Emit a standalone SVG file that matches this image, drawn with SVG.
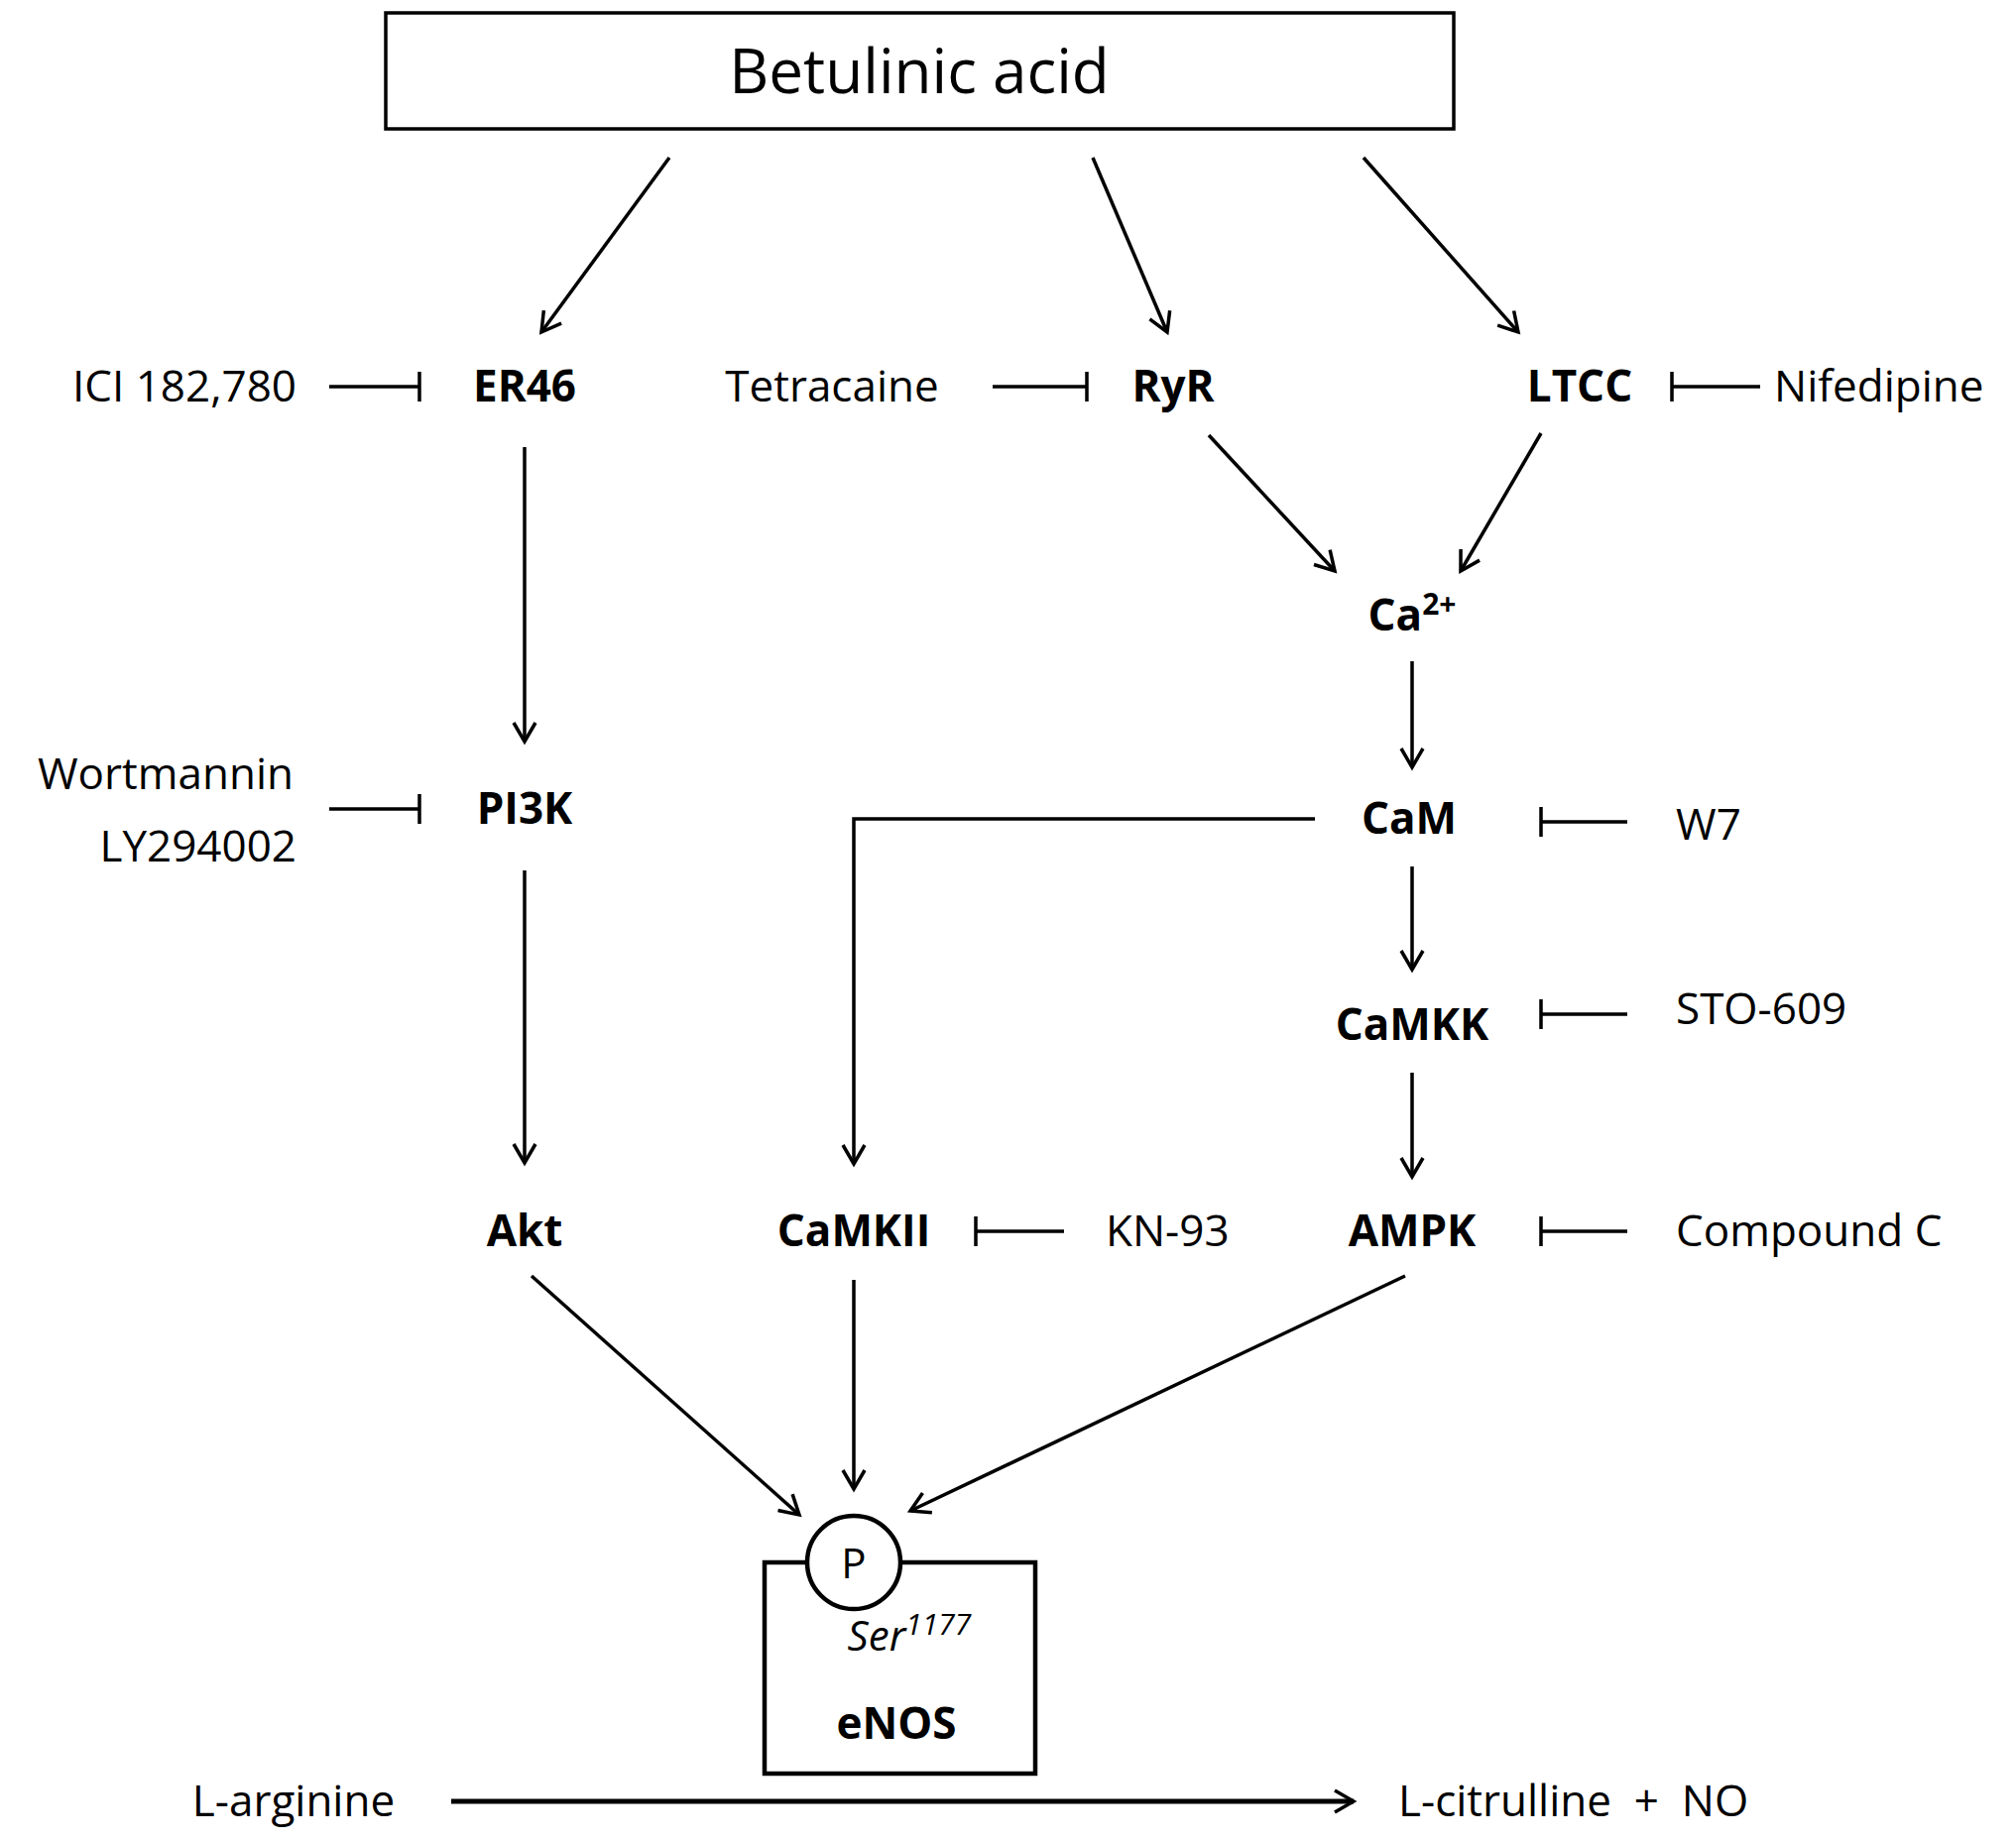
<svg xmlns="http://www.w3.org/2000/svg" width="2033" height="1856" viewBox="0 0 2033 1856">
<style>
text{font-family:"Open Sans","Liberation Sans",sans-serif;fill:#000}
.n{font-size:44px;font-weight:bold;text-anchor:middle}
.i{font-size:44px}
.l{stroke:#000;stroke-width:3.5;fill:none}
.a{marker-end:url(#ah)}
</style>
<defs>
<marker id="ah" markerWidth="26" markerHeight="26" refX="21" refY="13" orient="auto" markerUnits="userSpaceOnUse">
<polyline points="2,2 21,13 2,24" fill="none" stroke="#000" stroke-width="3.5"/>
</marker>
</defs>
<rect width="2033" height="1856" fill="#fff"/>
<g id="betulinic"><rect x="389" y="13" width="1077" height="117" class="l"/><text x="927" y="94" font-size="62" text-anchor="middle">Betulinic acid</text></g>
<g id="er46"><text class="n" x="529" y="405">ER46</text></g>
<g id="ryr"><text class="n" x="1183" y="405">RyR</text></g>
<g id="ltcc"><text class="n" x="1593" y="405">LTCC</text></g>
<g id="ca"><text class="n" x="1424" y="636">Ca<tspan font-size="30" dy="-16">2+</tspan></text></g>
<g id="cam"><text class="n" x="1421" y="841">CaM</text></g>
<g id="camkk"><text class="n" x="1424" y="1049">CaMKK</text></g>
<g id="ampk"><text class="n" x="1424" y="1257">AMPK</text></g>
<g id="camkii"><text class="n" x="861" y="1257">CaMKII</text></g>
<g id="akt"><text class="n" x="529" y="1257">Akt</text></g>
<g id="pi3k"><text class="n" x="529" y="831">PI3K</text></g>
<g id="enos"><rect x="771" y="1576" width="273" height="213" class="l" style="stroke-width:4.5"/><circle cx="861" cy="1576" r="47" style="fill:#fff;stroke:#000;stroke-width:4.5"/><text x="861" y="1592" font-size="42" text-anchor="middle">P</text><text x="917" y="1665" font-size="42" font-style="italic" text-anchor="middle">Ser<tspan font-size="30" dy="-16">1177</tspan></text><text class="n" x="904" y="1754">eNOS</text></g>
<g id="inhibitors">
<text class="i" x="299" y="405" text-anchor="end">ICI 182,780</text>
<text class="i" x="839" y="405" text-anchor="middle">Tetracaine</text>
<text class="i" x="1789" y="405">Nifedipine</text>
<text class="i" x="296" y="796" text-anchor="end">Wortmannin</text>
<text class="i" x="299" y="869" text-anchor="end">LY294002</text>
<text class="i" x="1690" y="847">W7</text>
<text class="i" x="1690" y="1033">STO-609</text>
<text class="i" x="1115" y="1257">KN-93</text>
<text class="i" x="1690" y="1257">Compound C</text>
<text class="i" x="296" y="1832" text-anchor="middle">L-arginine</text>
<text class="i" x="1410" y="1832" xml:space="preserve">L-citrulline  +  NO</text>
</g>
<g id="connectors">
<line class="l a" x1="675" y1="159" x2="546" y2="335"/>
<line class="l a" x1="1102" y1="159" x2="1177" y2="335"/>
<line class="l a" x1="1375" y1="159" x2="1531" y2="335"/>
<line class="l a" x1="529" y1="451" x2="529" y2="748"/>
<line class="l a" x1="529" y1="878" x2="529" y2="1173"/>
<line class="l a" x1="1219" y1="439" x2="1346" y2="576"/>
<line class="l a" x1="1554" y1="437" x2="1473" y2="576"/>
<line class="l a" x1="1424" y1="667" x2="1424" y2="774"/>
<line class="l a" x1="1424" y1="874" x2="1424" y2="978"/>
<line class="l a" x1="1424" y1="1082" x2="1424" y2="1187"/>
<polyline class="l a" points="1326,826 861,826 861,1174"/>
<line class="l a" x1="536" y1="1287" x2="806" y2="1528"/>
<line class="l a" x1="861" y1="1291" x2="861" y2="1502"/>
<line class="l a" x1="1417" y1="1287" x2="918" y2="1524"/>
<line class="l a" x1="455" y1="1817" x2="1365" y2="1817" style="stroke-width:5"/>
<path class="l" d="M332 390H423M423 375V405"/>
<path class="l" d="M1001 390H1096M1096 375V405"/>
<path class="l" d="M1775 390H1686M1686 375V405"/>
<path class="l" d="M332 816H423M423 801V831"/>
<path class="l" d="M1641 829H1554M1554 814V844"/>
<path class="l" d="M1641 1023H1554M1554 1008V1038"/>
<path class="l" d="M1073 1242H984M984 1227V1257"/>
<path class="l" d="M1641 1242H1554M1554 1227V1257"/>
</g>
</svg>
